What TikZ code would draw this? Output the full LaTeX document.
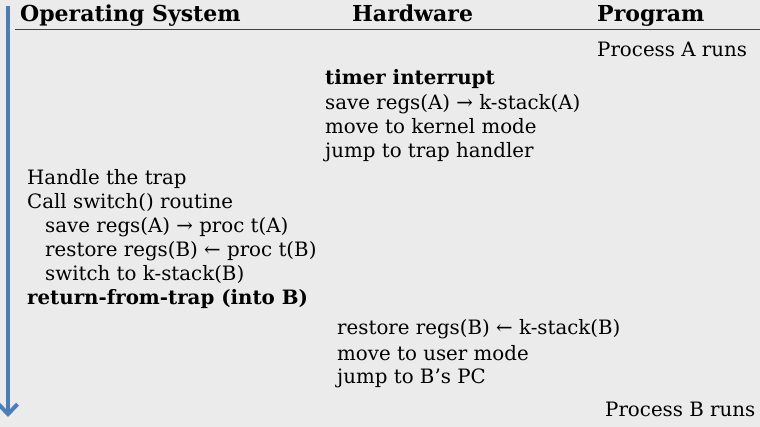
\documentclass[tikz,border=0pt]{standalone}
\usepackage{fontspec}
\setmainfont{DejaVu Serif}
\usetikzlibrary{arrows.meta}
\definecolor{bg}{HTML}{EBEBEB}
\definecolor{tl}{HTML}{4A7EBB}
\tikzset{
  txt/.style={anchor=base west, inner sep=0pt, font=\fontsize{19.8}{22}\selectfont},
  hdr/.style={txt, font=\fontsize{22}{24}\selectfont\bfseries},
}
\begin{document}
\begin{tikzpicture}[x=1pt,y=-1pt]
\fill[bg] (0,0) rectangle (760,427);
\useasboundingbox (0,0) rectangle (760,427);
\node[hdr] (os) at (20,22) {Operating System};
\node[hdr] (hw) at (352,22) {Hardware};
\node[hdr] (pg) at (597,22) {Program};
\coordinate (ls) at (15,30);
\coordinate (le) at (760,30);
\draw[line width=1pt, black!75] (ls) -- (le);
\coordinate (ta) at (8,6);
\coordinate (tb) at (8,417);
\draw[tl, line width=4pt, -{Straight Barb[length=10pt,width=19pt,line width=4pt]}] (ta) -- (tb);
\node[txt] (pa) at (597,57) {Process A runs};
\node[txt] (h1) at (325,85) {\bfseries timer interrupt};
\node[txt] (h2) at (325,110) {save regs(A) → k-stack(A)};
\node[txt] (h3) at (325,134) {move to kernel mode};
\node[txt] (h4) at (325,158) {jump to trap handler};
\node[txt] (o1) at (27,185) {Handle the trap};
\node[txt] (o2) at (27,209) {Call switch() routine};
\node[txt] (o3) at (45,233) {save regs(A) → proc t(A)};
\node[txt] (o4) at (45,257) {restore regs(B) ← proc t(B)};
\node[txt] (o5) at (45,281) {switch to k-stack(B)};
\node[txt] (o6) at (27,305) {\bfseries return-from-trap (into B)};
\node[txt] (r1) at (337,335) {restore regs(B) ← k-stack(B)};
\node[txt] (r2) at (337,360) {move to user mode};
\node[txt] (r3) at (337,384) {jump to B’s PC};
\node[txt] (pb) at (605,416) {Process B runs};
\end{tikzpicture}
\end{document}
